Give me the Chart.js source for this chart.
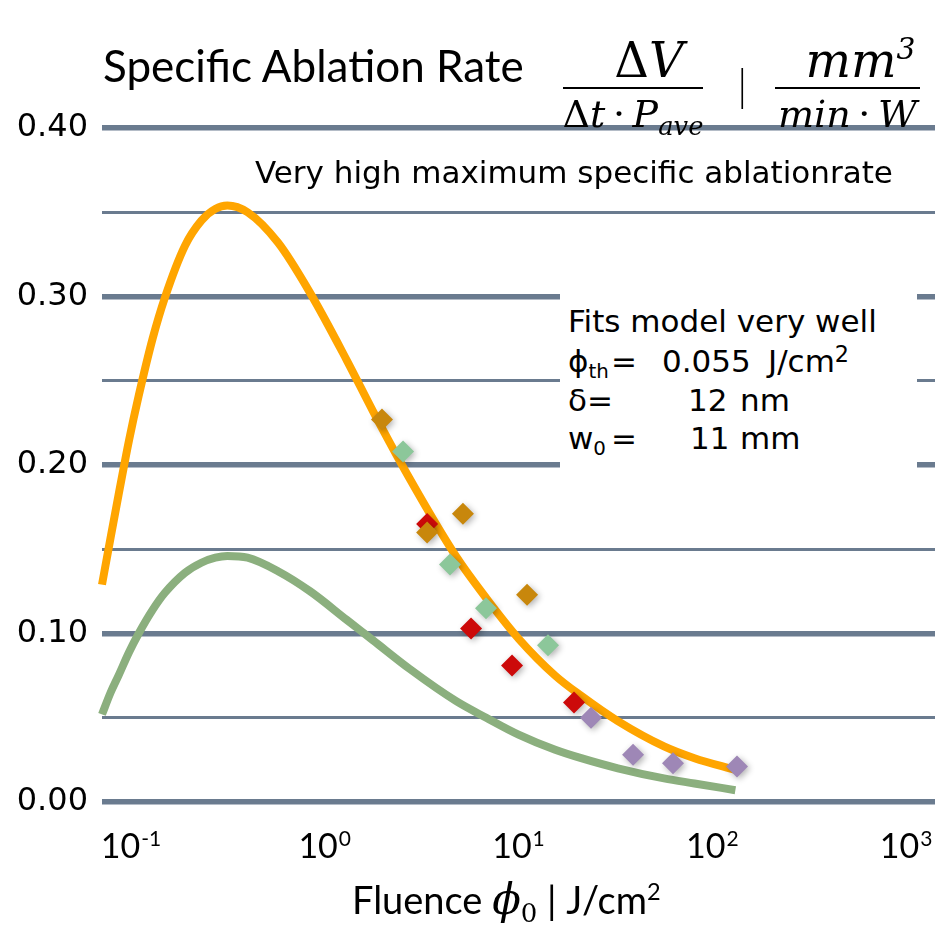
<!DOCTYPE html>
<html>
<head>
<meta charset="utf-8">
<script src="https://cdn.jsdelivr.net/npm/chart.js@4.4.1/dist/chart.umd.min.js"></script>
<style>
html,body{margin:0;padding:0;background:#fff;}
#wrap{position:relative;width:951px;height:925px;overflow:hidden;background:#fff;}
#c{position:absolute;left:0;top:0;}
.t{position:absolute;white-space:nowrap;color:#000;line-height:1;}
.title{font-family:Lato,'Open Sans',sans-serif;font-size:44px;}
.math{font-family:'DejaVu Serif',serif;font-style:italic;font-size:38px;text-align:center;}
.num{font-size:48px;}
.up{font-style:normal;}
.sub{font-size:0.68em;position:relative;top:0.3em;}
.sup{font-size:0.62em;position:relative;top:-0.6em;}
.bar{position:absolute;background:#000;height:2px;}
.ann{font-family:'DejaVu Sans',sans-serif;font-size:31px;}
.asub{font-size:0.64em;position:relative;top:0.3em;}
.asup{font-size:0.72em;position:relative;top:-0.45em;}
.box{position:absolute;background:#fff;}
.xt{font-family:Lato,'Open Sans',sans-serif;font-size:38px;}
.xm{font-family:'DejaVu Serif',serif;font-style:italic;font-size:42px;}
.xsub{font-family:'DejaVu Serif',serif;font-size:26px;position:relative;top:0.3em;}
.xsup{font-size:0.62em;position:relative;top:-0.6em;}
</style>
</head>
<body>
<div id="wrap">
<canvas id="c" width="951" height="925"></canvas>

<!-- title -->
<div class="t title" style="left:103px;top:43px;">Specific Ablation Rate</div>
<div class="t math num" style="left:579px;top:36px;width:140px;"><span class="up">Δ</span>V</div>
<div class="bar" style="left:563px;top:87px;width:140px;"></div>
<div class="t math" style="left:550px;top:95px;width:166px;"><span class="up">Δ</span>t<span class="up">&#8201;·&#8201;</span>P<span class="sub">ave</span></div>
<div class="t title" style="left:737px;top:62px;font-weight:300;">|</div>
<div class="t math num" style="left:788px;top:36px;width:145px;">mm<span class="sup">3</span></div>
<div class="bar" style="left:775px;top:87px;width:145px;"></div>
<div class="t math" style="left:770px;top:95px;width:155px;">min<span class="up">&#8201;·&#8201;</span>W</div>

<!-- annotations -->
<div class="t ann" style="left:255px;top:157px;">Very high maximum specific ablationrate</div>
<div class="box" style="left:560px;top:290px;width:357px;height:180px;"></div>
<div class="t ann" style="left:568px;top:306px;">Fits model very well</div>
<div class="t ann" style="left:568px;top:346px;">ϕ<span class="asub">th</span></div>
<div class="t ann" style="left:611px;top:346px;">=</div>
<div class="t ann" style="left:662px;top:346px;">0.055</div>
<div class="t ann" style="left:768px;top:346px;">J/cm<span class="asup">2</span></div>
<div class="t ann" style="left:568px;top:385px;">δ=</div>
<div class="t ann" style="left:688px;top:385px;">12</div>
<div class="t ann" style="left:740px;top:385px;">nm</div>
<div class="t ann" style="left:568px;top:423px;">w<span class="asub">0</span></div>
<div class="t ann" style="left:611px;top:423px;">=</div>
<div class="t ann" style="left:690px;top:423px;">11</div>
<div class="t ann" style="left:740px;top:423px;">mm</div>

<!-- x axis title -->
<div class="t xt" style="left:352px;top:879px;">Fluence <span class="xm">ϕ</span><span class="xsub">0</span> | J/cm<span class="xsup">2</span></div>
</div>

<script>
// ---- data ----
const fluenceCurve  = [0.1, 0.11, 0.12, 0.135, 0.15, 0.175, 0.2, 0.25, 0.3, 0.35, 0.4, 0.5, 0.7, 1, 1.5, 2, 3, 5, 7, 10, 15, 20, 30, 50, 70, 110];
const rateFitOrange = [0.129, 0.157, 0.182, 0.215, 0.241, 0.275, 0.299, 0.330, 0.345, 0.352, 0.354, 0.350, 0.332, 0.302, 0.262, 0.232, 0.192, 0.146, 0.121, 0.097, 0.075, 0.063, 0.048, 0.033, 0.026, 0.019];
const rateFitGreen  = [0.052, 0.065, 0.075, 0.089, 0.100, 0.114, 0.124, 0.136, 0.142, 0.145, 0.146, 0.145, 0.137, 0.125, 0.108, 0.096, 0.079, 0.060, 0.050, 0.040, 0.031, 0.026, 0.020, 0.014, 0.011, 0.007];

const brownFluence  = [2.21, 3.64, 5.41, 10.99];
const brownRate     = [0.227, 0.160, 0.171, 0.123];
const greenFluence  = [2.79, 4.69, 6.98, 13.86];
const greenRate     = [0.208, 0.141, 0.115, 0.093];
const redFluence    = [3.64, 5.92, 9.31, 18.47];
const redRate       = [0.165, 0.103, 0.081, 0.059];
const purpleFluence = [22.3, 35.5, 55.2, 112];
const purpleRate    = [0.050, 0.028, 0.023, 0.021];

const yTicks      = [0, 0.05, 0.10, 0.15, 0.20, 0.25, 0.30, 0.35, 0.40];
const yTickLabels = ['0.00', '', '0.10', '', '0.20', '', '0.30', '', '0.40'];
const xTickValues = [0.1, 1, 10, 100, 1000];
const xTickBase   = '10';
const xTickExps   = ['-1', '0', '1', '2', '3'];

// ---- helpers ----
const pts = (xs, ys) => xs.map((x, i) => ({x: x, y: ys[i]}));

const markerShadow = {
  id: 'markerShadow',
  beforeDatasetDraw(chart, args) {
    if (chart.data.datasets[args.index].isMarker) {
      const ctx = chart.ctx;
      ctx.save();
      ctx.shadowColor = 'rgba(0,0,0,0.30)';
      ctx.shadowBlur = 6;
      ctx.shadowOffsetX = 2;
      ctx.shadowOffsetY = 2;
    }
  },
  afterDatasetDraw(chart, args) {
    if (chart.data.datasets[args.index].isMarker) chart.ctx.restore();
  }
};

const expLabels = {
  id: 'expLabels',
  afterDraw(chart) {
    const s = chart.scales.xl;
    const ctx = chart.ctx;
    ctx.save();
    ctx.fillStyle = '#000';
    ctx.textBaseline = 'alphabetic';
    ctx.textAlign = 'left';
    xTickValues.forEach((v, i) => {
      const px = s.getPixelForValue(v);
      ctx.font = '34px Lato';
      const bw = ctx.measureText(xTickBase).width;
      ctx.font = '21px Lato';
      const ew = ctx.measureText(xTickExps[i]).width;
      const left = px - (bw + ew + 1) / 2;
      ctx.font = '34px Lato';
      ctx.fillText(xTickBase, left, s.top + 56);
      ctx.font = '21px Lato';
      ctx.fillText(xTickExps[i], left + bw + 1, s.top + 44);
    });
    ctx.restore();
  }
};

const marker = (data, color) => ({
  data: data, isMarker: true, showLine: false,
  pointStyle: 'rectRot', pointRadius: 11, pointHoverRadius: 11,
  backgroundColor: color, borderColor: color, borderWidth: 0, order: 0
});

new Chart(document.getElementById('c'), {
  type: 'scatter',
  data: {
    datasets: [
      marker(pts(purpleFluence, purpleRate), '#9e87b6'),
      marker(pts(greenFluence, greenRate), '#8cc79a'),
      marker(pts(brownFluence, brownRate), '#c8870c'),
      marker(pts(redFluence, redRate), '#cc0a0a'),
      {
        data: pts(fluenceCurve, rateFitOrange), showLine: true, pointRadius: 0,
        borderColor: '#ffa500', borderWidth: 8, borderCapStyle: 'butt',
        cubicInterpolationMode: 'monotone', order: 1, clip: false
      },
      {
        data: pts(fluenceCurve, rateFitGreen), showLine: true, pointRadius: 0,
        borderColor: '#8baf7e', borderWidth: 8, borderCapStyle: 'butt',
        cubicInterpolationMode: 'monotone', order: 1, clip: false
      }
    ]
  },
  options: {
    responsive: false,
    animation: false,
    devicePixelRatio: 1,
    layout: {padding: {left: 0, right: 16, top: 128, bottom: 0}},
    plugins: {legend: {display: false}, tooltip: {enabled: false}},
    scales: {
      x: {
        type: 'logarithmic', min: 0.1, max: 1000, display: false
      },
      xl: {
        type: 'logarithmic', position: 'bottom',
        min: 0.0709, max: 1411,
        grid: {display: false}, border: {display: false},
        ticks: {display: false},
        afterFit(s) { s.height = 123; }
      },
      y: {
        min: 0, max: 0.4,
        afterFit(s) { s.width = 102; },
        afterBuildTicks(s) { s.ticks = yTicks.map(v => ({value: v})); },
        border: {display: false},
        grid: {
          drawTicks: false,
          color: '#6a7b8f',
          lineWidth: c => (c.index % 2 === 0 ? 5.5 : 3)
        },
        ticks: {
          padding: 14, color: '#000',
          font: {family: 'DejaVu Sans', size: 32},
          callback: (v, i) => yTickLabels[i]
        }
      }
    }
  },
  plugins: [markerShadow, expLabels]
});
</script>
</body>
</html>
